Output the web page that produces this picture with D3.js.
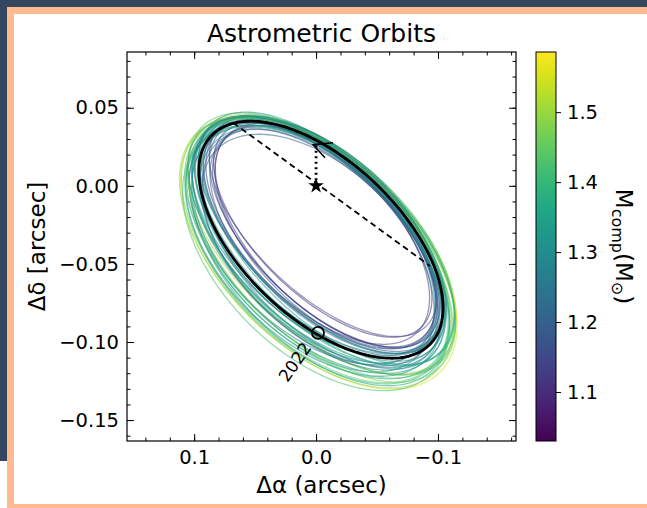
<!DOCTYPE html>
<html>
<head>
<meta charset="utf-8">
<script src="https://cdn.jsdelivr.net/npm/d3@7"></script>
<style>
  body { margin: 0; background: #fff; }
  text { font-family: "DejaVu Sans", sans-serif; fill: #000; }
</style>
</head>
<body>
<svg id="chart" width="647" height="508"></svg>
<script>
// ---- data ----
var xTicks = [0.1, 0.0, -0.1];
var yTicks = [0.05, 0.0, -0.05, -0.10, -0.15];
var cbarTicks = [1.1, 1.2, 1.3, 1.4, 1.5];

// best fit orbit (arcsec, degrees)
var bestCenter = [-0.004, -0.0345];
var bestAxes = [0.113, 0.055];
var bestTheta = 32;

// sampled orbits: companion mass and offsets from the best fit
var orbitMass   = [1.27, 1.09, 1.41, 1.33, 1.14, 1.52, 1.22, 1.36, 1.18, 1.30, 1.45, 1.25, 1.12, 1.38, 1.20, 1.29, 1.43, 1.16, 1.34, 1.24, 1.55, 1.31, 1.21, 1.39, 1.11, 1.28, 1.47, 1.35, 1.23, 1.42, 1.17, 1.32, 1.26, 1.49, 1.37, 1.19, 1.40, 1.30, 1.33, 1.28, 1.44, 1.26];
var orbitDA     = [0.003, -0.010, 0.009, 0.000, -0.007, 0.011, -0.003, 0.006, -0.005, 0.001, 0.010, -0.002, -0.008, 0.007, -0.004, 0.004, 0.012, -0.006, 0.005, -0.001, 0.014, 0.002, -0.005, 0.008, -0.009, 0.000, 0.011, 0.007, -0.003, 0.009, -0.006, 0.003, 0.001, 0.013, 0.006, -0.004, 0.008, 0.002, 0.004, -0.001, 0.010, 0.002];
var orbitDB     = [0.002, -0.009, 0.005, 0.006, -0.007, 0.006, -0.003, 0.008, -0.006, 0.001, 0.009, 0.001, -0.004, 0.003, -0.002, 0.007, 0.004, -0.008, 0.000, 0.005, 0.011, -0.002, 0.002, 0.009, -0.006, 0.004, 0.007, 0.001, 0.003, 0.011, -0.003, 0.006, -0.004, 0.010, 0.002, -0.005, 0.008, -0.001, 0.004, 0.003, 0.006, 0.000];
var orbitDTheta = [-0.8, 1.5, 0.3, 1.0, 0.5, -0.5, 1.5, 0.6, 2.0, -0.5, 0.4, 0.8, 1.8, -0.3, -0.3, -1.0, 0.8, 1.0, 1.2, -0.8, -0.2, 1.4, -0.8, -0.4, 2.0, 0.4, 0.6, 0.9, -0.6, -0.6, 1.3, -0.9, 1.5, 0.2, 0.2, 0.7, 0.0, 1.0, -0.4, 0.6, -0.2, -0.2];
var orbitDU     = [0.003, 0.002, -0.004, 0.004, -0.003, -0.002, 0.004, -0.005, 0.000, 0.003, 0.001, -0.004, 0.005, -0.003, -0.005, 0.001, -0.002, 0.003, -0.006, 0.005, -0.003, 0.002, -0.003, -0.002, -0.002, 0.004, -0.004, 0.002, 0.001, -0.003, -0.005, -0.002, 0.003, -0.001, -0.004, 0.002, -0.001, -0.001, 0.001, -0.003, -0.001, 0.003];
var orbitDP     = [0.002, -0.003, 0.003, -0.002, -0.004, 0.004, 0.000, -0.001, -0.002, 0.003, 0.001, -0.003, -0.001, 0.004, 0.001, -0.002, 0.002, 0.000, 0.003, -0.001, 0.003, 0.002, -0.004, 0.000, -0.002, 0.001, 0.002, -0.003, 0.004, -0.001, 0.002, 0.000, -0.002, 0.001, 0.003, -0.003, 0.002, -0.001, 0.003, -0.002, 0.000, 0.001];

var nodeLine = [[0.068, 0.0404], [-0.0934, -0.0513]];
var periLine = [[0, 0], [0, 0.027]];
var arrowTip = [0.0025, 0.0263];
var epochPoint = [-0.0016, -0.0942];
var epochLabel = "2022";

var svg = d3.select("#chart"),
    width = +svg.attr("width"),
    height = +svg.attr("height");

// frame around the figure
svg.append("rect").attr("width", width).attr("height", height).attr("fill", "#fff");
svg.append("rect").attr("x", 0).attr("y", 0).attr("width", width).attr("height", 7).attr("fill", "#35465f");
svg.append("rect").attr("x", 0).attr("y", 0).attr("width", 7).attr("height", 461).attr("fill", "#35465f");
svg.append("rect").attr("x", 7).attr("y", 7).attr("width", width - 7).attr("height", 7).attr("fill", "#ffba8f");
svg.append("rect").attr("x", 7).attr("y", 7).attr("width", 7).attr("height", height - 7).attr("fill", "#ffba8f");
svg.append("rect").attr("x", 7).attr("y", 504).attr("width", width - 7).attr("height", 4).attr("fill", "#ffba8f");

var pL = 127, pR = 516, pT = 52, pB = 441;

var x = d3.scaleLinear().domain([0.1551, -0.164]).range([pL, pR]);
var y = d3.scaleLinear().domain([0.0857, -0.1634]).range([pT, pB]);
var cmin = 1.03, cmax = 1.586;
var cnorm = d3.scaleLinear().domain([cmin, cmax]).range([0, 1]);
var color = function(m) { return d3.interpolateViridis(cnorm(m)); };

var line = d3.line()
  .x(function(d) { return x(d[0]); })
  .y(function(d) { return y(d[1]); });

function ellipsePoints(cx, cy, a, b, thetaDeg) {
  var th = thetaDeg * Math.PI / 180, pts = [];
  for (var i = 0; i <= 240; i++) {
    var t = i / 240 * 2 * Math.PI;
    pts.push([cx + a * Math.cos(th) * Math.cos(t) - b * Math.sin(th) * Math.sin(t),
              cy + a * Math.sin(th) * Math.cos(t) + b * Math.cos(th) * Math.sin(t)]);
  }
  return pts;
}

// sampled orbits
var th0 = bestTheta * Math.PI / 180;
var u = [Math.cos(th0), Math.sin(th0)], p = [-Math.sin(th0), Math.cos(th0)];
var orbits = orbitMass.map(function(m, i) {
  var db = orbitDB[i], du = orbitDU[i], dp = orbitDP[i] - db;
  return {
    mass: m,
    pts: ellipsePoints(bestCenter[0] + dp * p[0] + du * u[0],
                       bestCenter[1] + dp * p[1] + du * u[1],
                       bestAxes[0] + orbitDA[i], bestAxes[1] + db,
                       bestTheta + orbitDTheta[i])
  };
});

var defs = svg.append("defs");
defs.append("clipPath").attr("id", "clip")
  .append("rect").attr("x", pL).attr("y", pT).attr("width", pR - pL).attr("height", pB - pT);

var plot = svg.append("g").attr("clip-path", "url(#clip)");

plot.append("g").attr("class", "orbits")
  .selectAll("path")
  .data(orbits)
  .enter()
  .append("path")
  .attr("d", function(d) { return line(d.pts); })
  .attr("fill", "none")
  .attr("stroke", function(d) { return color(d.mass); })
  .attr("stroke-width", 1.3)
  .attr("stroke-opacity", 0.55);

plot.append("path")
  .attr("d", line(ellipsePoints(bestCenter[0], bestCenter[1], bestAxes[0], bestAxes[1], bestTheta)))
  .attr("fill", "none").attr("stroke", "#000").attr("stroke-width", 2.8);

plot.append("path")
  .attr("d", line(nodeLine))
  .attr("fill", "none").attr("stroke", "#000").attr("stroke-width", 1.8)
  .attr("stroke-dasharray", "6,4");

plot.append("path")
  .attr("d", line(periLine))
  .attr("fill", "none").attr("stroke", "#000").attr("stroke-width", 2.8)
  .attr("stroke-dasharray", "2,3.5");

// direction arrow
var ax = x(arrowTip[0]), ay = y(arrowTip[1]);
plot.append("path")
  .attr("d", "M" + (ax + 20) + "," + (ay - 2) + "L" + ax + "," + ay + "L" + (ax + 12) + "," + (ay + 13))
  .attr("fill", "none").attr("stroke", "#000").attr("stroke-width", 1.6);

plot.append("path")
  .attr("d", d3.symbol(d3.symbolStar, 75))
  .attr("transform", "translate(" + x(0) + "," + y(0) + ")")
  .attr("fill", "#000");

plot.append("circle")
  .attr("cx", x(epochPoint[0])).attr("cy", y(epochPoint[1])).attr("r", 6)
  .attr("fill", "none").attr("stroke", "#000").attr("stroke-width", 1.8);

svg.append("text")
  .attr("transform", "translate(" + (x(epochPoint[0]) - 23) + "," + (y(epochPoint[1]) + 29) + ") rotate(-55)")
  .attr("text-anchor", "middle")
  .attr("dy", "0.35em")
  .style("font-size", "17px")
  .text(epochLabel);

// axes
function styleAxis(g) {
  g.select(".domain").remove();
  g.selectAll("line").attr("stroke", "#000").attr("stroke-width", 1);
  g.selectAll("text").style("font-size", "19.5px").style("font-family", "DejaVu Sans");
}
var xMinor = d3.range(-16, 15, 2).map(function(v) { return v / 100; });
var yMinor = d3.range(-16, 9).map(function(v) { return v / 100; });

svg.append("g").attr("transform", "translate(0," + pB + ")")
  .call(d3.axisBottom(x).tickValues(xTicks).tickFormat(d3.format(".1f")).tickSize(-7).tickPadding(9)).call(styleAxis);
svg.append("g").attr("transform", "translate(0," + pB + ")")
  .call(d3.axisBottom(x).tickValues(xMinor).tickFormat("").tickSize(-3.5)).call(styleAxis);
svg.append("g").attr("transform", "translate(0," + pT + ")")
  .call(d3.axisTop(x).tickValues(xTicks).tickFormat("").tickSize(-7)).call(styleAxis);
svg.append("g").attr("transform", "translate(0," + pT + ")")
  .call(d3.axisTop(x).tickValues(xMinor).tickFormat("").tickSize(-3.5)).call(styleAxis);

svg.append("g").attr("transform", "translate(" + pL + ",0)")
  .call(d3.axisLeft(y).tickValues(yTicks).tickFormat(d3.format(".2f")).tickSize(-7).tickPadding(8)).call(styleAxis);
svg.append("g").attr("transform", "translate(" + pL + ",0)")
  .call(d3.axisLeft(y).tickValues(yMinor).tickFormat("").tickSize(-3.5)).call(styleAxis);
svg.append("g").attr("transform", "translate(" + pR + ",0)")
  .call(d3.axisRight(y).tickValues(yTicks).tickFormat("").tickSize(-7)).call(styleAxis);
svg.append("g").attr("transform", "translate(" + pR + ",0)")
  .call(d3.axisRight(y).tickValues(yMinor).tickFormat("").tickSize(-3.5)).call(styleAxis);

svg.append("rect")
  .attr("x", pL).attr("y", pT).attr("width", pR - pL).attr("height", pB - pT)
  .attr("fill", "none").attr("stroke", "#000").attr("stroke-width", 1.2);

// labels
svg.append("text").attr("x", (pL + pR) / 2).attr("y", 42)
  .attr("text-anchor", "middle").style("font-size", "25px").text("Astrometric Orbits");
svg.append("text").attr("x", (pL + pR) / 2).attr("y", 493)
  .attr("text-anchor", "middle").style("font-size", "23px").text("Δα (arcsec)");
svg.append("text").attr("transform", "translate(45," + (pT + pB) / 2 + ") rotate(-90)")
  .attr("text-anchor", "middle").style("font-size", "23px").text("Δδ [arcsec]");

// colorbar
var cbX = 536, cbW = 20;
var cScale = d3.scaleLinear().domain([cmin, cmax]).range([pB, pT]);
var grad = defs.append("linearGradient")
  .attr("id", "viridis").attr("x1", 0).attr("y1", 1).attr("x2", 0).attr("y2", 0);
d3.range(0, 1.0001, 0.05).forEach(function(t) {
  grad.append("stop").attr("offset", t).attr("stop-color", d3.interpolateViridis(t));
});
svg.append("rect").attr("x", cbX).attr("y", pT).attr("width", cbW).attr("height", pB - pT)
  .attr("fill", "url(#viridis)").attr("stroke", "#000").attr("stroke-width", 1);
svg.append("g").attr("transform", "translate(" + (cbX + cbW) + ",0)")
  .call(d3.axisRight(cScale).tickValues(cbarTicks).tickFormat(d3.format(".1f")).tickSize(5).tickPadding(6))
  .call(styleAxis);

var cl = svg.append("text").attr("transform", "translate(616," + ((pT + pB) / 2) + ") rotate(90)")
  .attr("text-anchor", "middle").style("font-size", "23px");
cl.append("tspan").text("M");
cl.append("tspan").attr("baseline-shift", "-25%").style("font-size", "16px").text("comp");
cl.append("tspan").text("(M");
cl.append("tspan").attr("baseline-shift", "-25%").style("font-size", "16px").text("⊙");
cl.append("tspan").text(")");
</script>
</body>
</html>
